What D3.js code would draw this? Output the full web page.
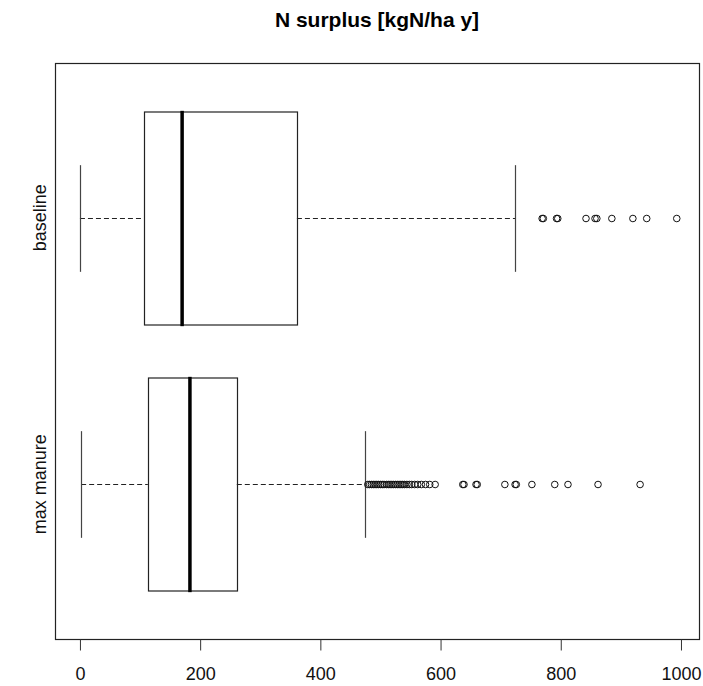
<!DOCTYPE html>
<html>
<head>
<meta charset="utf-8">
<script src="https://cdn.jsdelivr.net/npm/d3@7"></script>
<style>
	body { margin: 0; background: #fff; }
	text { font-family: "Liberation Sans", Arial, sans-serif; }
</style>
</head>
<body>
<svg id="chart" width="703" height="686"></svg>
<script>
const width = 703;
const height = 686;

// groups from top to bottom
const categories = ["baseline", "max manure"];
const lowWhisker = [0, 2];
const q1 = [106, 113];
const medians = [170, 183];
const q3 = [361, 261];
const highWhisker = [724, 475];
const outliers = [
	[769, 771, 793, 795, 842, 857, 860, 885, 920, 943, 993],
	[479, 482, 485, 488, 491, 494, 497, 500, 503, 506, 510, 513, 516, 519, 522, 525, 528, 531, 534, 537, 540, 544, 548, 552, 557, 562, 568, 575, 582, 591,
	 637, 639, 659, 661, 707, 724, 726, 752, 790, 812, 862, 932]
];
const xTicks = [0, 200, 400, 600, 800, 1000];
const title = "N surplus [kgN/ha y]";

const svg = d3.select("#chart");

const plot = { left: 55, right: 699, top: 63, bottom: 639 };

const xScale = d3.scaleLinear().domain([-41.5, 1030]).range([plot.left, plot.right]);
// R places groups at 1..n with 4% padding on [0.5, n+0.5]
const yScale = d3.scaleLinear().domain([2.58, 0.42]).range([plot.top, plot.bottom]);
const pos = i => categories.length - i;
const halfBox = (yScale(1) - yScale(1.4));

// plot frame
svg.append("rect")
	.attr("x", plot.left + 0.5)
	.attr("y", plot.top + 0.5)
	.attr("width", plot.right - plot.left)
	.attr("height", plot.bottom - plot.top)
	.attr("fill", "none")
	.attr("stroke", "#222")
	.attr("stroke-width", 1.2);

// title
svg.append("text")
	.attr("x", (plot.left + plot.right) / 2)
	.attr("y", 27)
	.attr("text-anchor", "middle")
	.style("font-size", "21px")
	.style("font-weight", "bold")
	.text(title);

// x axis
const xAxis = svg.append("g")
	.attr("transform", `translate(0, ${plot.bottom + 0.5})`)
	.call(d3.axisBottom(xScale).tickValues(xTicks).tickSize(11).tickPadding(17).tickFormat(d3.format("d")));
xAxis.select(".domain").remove();
xAxis.selectAll(".tick line").attr("stroke", "#333");
xAxis.selectAll("text")
	.style("font-size", "18px")
	.style("font-family", "'Liberation Sans', Arial, sans-serif")
	.attr("fill", "#111");

// y labels (rotated)
categories.forEach((c, i) => {
	svg.append("text")
		.attr("transform", `translate(${46}, ${yScale(pos(i))}) rotate(-90)`)
		.attr("text-anchor", "middle")
		.style("font-size", "18px")
		.attr("fill", "#111")
		.text(c);
});

// y ticks on left are hidden in reference (only labels shown)

const boxG = svg.selectAll(".box")
	.data(categories)
	.enter()
	.append("g")
	.attr("class", "box")
	.each((d, i, nodes) => {
		const g = d3.select(nodes[i]);
		const yc = Math.round(yScale(pos(i))) + 0.5;

		// whiskers dashed
		g.append("line")
			.attr("x1", xScale(lowWhisker[i])).attr("x2", xScale(q1[i]))
			.attr("y1", yc).attr("y2", yc)
			.attr("stroke", "#222").attr("stroke-width", 1)
			.attr("stroke-dasharray", "5,3");
		g.append("line")
			.attr("x1", xScale(q3[i])).attr("x2", xScale(highWhisker[i]))
			.attr("y1", yc).attr("y2", yc)
			.attr("stroke", "#222").attr("stroke-width", 1)
			.attr("stroke-dasharray", "5,3");

		// staples
		[lowWhisker[i], highWhisker[i]].forEach(v => {
			g.append("line")
				.attr("x1", Math.round(xScale(v)) + 0.5).attr("x2", Math.round(xScale(v)) + 0.5)
				.attr("y1", yc - halfBox / 2).attr("y2", yc + halfBox / 2)
				.attr("stroke", "#444").attr("stroke-width", 1.2);
		});

		// box
		g.append("rect")
			.attr("x", Math.round(xScale(q1[i])) + 0.5)
			.attr("y", Math.round(yc - halfBox))
			.attr("width", Math.round(xScale(q3[i]) - xScale(q1[i])))
			.attr("height", Math.round(2 * halfBox))
			.attr("fill", "none")
			.attr("stroke", "#222")
			.attr("stroke-width", 1.2);

		// median
		g.append("line")
			.attr("x1", xScale(medians[i])).attr("x2", xScale(medians[i]))
			.attr("y1", yc - halfBox - 1).attr("y2", yc + halfBox + 1)
			.attr("stroke", "#000").attr("stroke-width", 3.5);

		// outliers
		g.selectAll(".outlier")
			.data(outliers[i])
			.enter()
			.append("circle")
			.attr("class", "outlier")
			.attr("cx", v => xScale(v))
			.attr("cy", yc)
			.attr("r", 3.3)
			.attr("fill", "none")
			.attr("stroke", "#111")
			.attr("stroke-width", 1);
	});
</script>
</body>
</html>
